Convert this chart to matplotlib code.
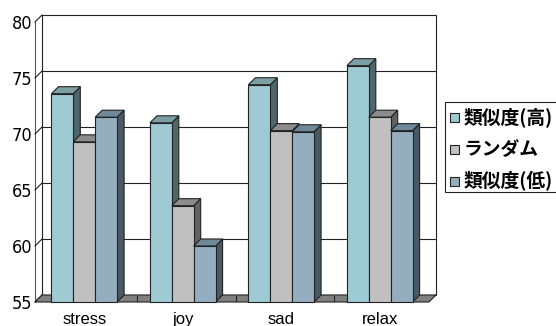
import matplotlib
matplotlib.use("Agg")
import matplotlib.pyplot as plt
from matplotlib.patches import Polygon, Rectangle

# ------------------------------
# Data
# ------------------------------
categories = ["stress", "joy", "sad", "relax"]
series_names = ["類似度(高)", "ランダム", "類似度(低)"]
sim_high = [73.6, 71.0, 74.4, 76.1]
random_vals = [69.3, 63.6, 70.3, 71.5]
sim_low = [71.5, 60.0, 70.2, 70.3]
y_ticks = [55, 60, 65, 70, 75, 80]

series = [sim_high, random_vals, sim_low]

# front / side / top colours for each series
colors = [
    ("#9ECAD3", "#4F666B", "#7C9EA5"),
    ("#C0C0C0", "#626262", "#8C8C8C"),
    ("#94AEBF", "#4A5A64", "#6E8A99"),
]

W, H = 556, 326
fig = plt.figure(figsize=(W / 100, H / 100), dpi=100)

# front plane of the plot box, in pixels
left, right, bottom, top = 35, 429, 302, 22
ax = fig.add_axes([left / W, 1 - bottom / H, (right - left) / W, (bottom - top) / H])

ymin, ymax = y_ticks[0], y_ticks[-1]
n = len(categories)
ax.set_xlim(0, n)
ax.set_ylim(ymin, ymax)

# depth offset of the 3D box: 7 px right, 7 px up
depth_px = 7
dx = depth_px / ((right - left) / n)
dy = depth_px / ((bottom - top) / (ymax - ymin))

edge = "#222222"
lw = 0.8

# back wall with gridlines
ax.add_patch(Rectangle((dx, ymin + dy), n, ymax - ymin, facecolor="white",
                       edgecolor=edge, lw=lw, clip_on=False, zorder=1))
for v in y_ticks[1:-1]:
    ax.plot([dx, n + dx], [v + dy, v + dy], color=edge, lw=lw, clip_on=False, zorder=1)

# thin side wall: front edge and slanted gridlines
ax.plot([0, 0], [ymin, ymax], color="#555555", lw=lw, clip_on=False, zorder=1)
for v in y_ticks:
    ax.plot([0, dx], [v, v + dy], color=edge, lw=lw, clip_on=False, zorder=1)

# floor
ax.add_patch(Polygon([(0, ymin), (n, ymin), (n + dx, ymin + dy), (dx, ymin + dy)],
                     closed=True, facecolor="#808080", edgecolor=edge, lw=lw,
                     clip_on=False, zorder=2))
for k in range(1, n):
    ax.plot([k + dx * 0.5, k + dx * 0.5], [ymin + dy * 0.1, ymin + dy * 0.9],
            color=edge, lw=lw, clip_on=False, zorder=2)

# 3D columns
bar_w = 1 / 4.5
gap = (1 - 3 * bar_w) / 2
z = 3
for i in range(n):
    for s, vals in enumerate(series):
        v = vals[i]
        x0 = i + gap + s * bar_w
        x1 = x0 + bar_w
        front, side, topc = colors[s]
        ax.add_patch(Polygon([(x1, ymin), (x1 + dx, ymin + dy), (x1 + dx, v + dy), (x1, v)],
                             closed=True, facecolor=side, edgecolor=edge, lw=lw,
                             clip_on=False, zorder=z))
        ax.add_patch(Polygon([(x0, v), (x1, v), (x1 + dx, v + dy), (x0 + dx, v + dy)],
                             closed=True, facecolor=topc, edgecolor=edge, lw=lw,
                             clip_on=False, zorder=z))
        ax.add_patch(Rectangle((x0, ymin), bar_w, v - ymin, facecolor=front,
                               edgecolor=edge, lw=lw, clip_on=False, zorder=z))
        z += 1

# axes labels
ax.set_xticks([i + 0.5 for i in range(n)], labels=categories)
ax.set_yticks(y_ticks, labels=[str(t) for t in y_ticks])
ax.tick_params(length=0)
ax.tick_params(axis="y", pad=2)
ax.tick_params(axis="x", pad=7)
for lab in ax.get_yticklabels():
    lab.set_fontfamily(["DejaVu Sans"])
    lab.set_fontstretch("condensed")
    lab.set_fontsize(13)
for lab in ax.get_xticklabels():
    lab.set_fontfamily(["Liberation Sans", "DejaVu Sans"])
    lab.set_fontsize(12)
for sp in ax.spines.values():
    sp.set_visible(False)
ax.patch.set_visible(False)

# legend box
lx0, ly0, ly1 = 445, 102, 192
fig.patches.append(Rectangle((lx0 / W, 1 - ly1 / H), (W + 5 - lx0) / W, (ly1 - ly0) / H,
                             transform=fig.transFigure, facecolor="white",
                             edgecolor=edge, lw=lw))
row_y = [117, 149, 181]
for s, name in enumerate(series_names):
    cy = row_y[s]
    fig.patches.append(Rectangle((450 / W, 1 - (cy + 4.5) / H), 9 / W, 9 / H,
                                 transform=fig.transFigure, facecolor=colors[s][0],
                                 edgecolor=edge, lw=lw))
    fig.text(464 / W, 1 - cy / H, name, fontsize=13.5, fontweight="bold",
             family=["Noto Sans CJK JP", "DejaVu Sans"], va="center", ha="left")

fig.savefig("out.png", dpi=100)
